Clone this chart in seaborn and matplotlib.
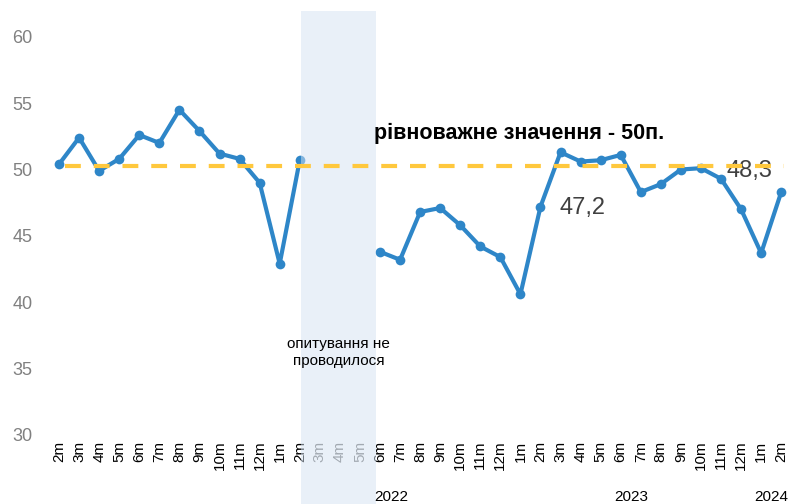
import numpy as np
import pandas as pd
import seaborn as sns
import matplotlib.pyplot as plt

months = ["2m", "3m", "4m", "5m", "6m", "7m", "8m", "9m", "10m", "11m", "12m",
          "1m", "2m", "3m", "4m", "5m", "6m", "7m", "8m", "9m", "10m", "11m", "12m",
          "1m", "2m", "3m", "4m", "5m", "6m", "7m", "8m", "9m", "10m", "11m", "12m",
          "1m", "2m"]
index_values = [50.4, 52.4, 49.9, 50.8, 52.6, 52.0, 54.5, 52.9, 51.2, 50.8, 49.0,
                42.9, 50.7, np.nan, np.nan, np.nan, 43.8, 43.2, 46.8, 47.1, 45.8, 44.2, 43.4,
                40.6, 47.2, 51.3, 50.6, 50.7, 51.1, 48.3, 48.9, 50.0, 50.1, 49.3, 47.0,
                43.7, 48.3]
segment = [0] * 13 + [1] * 24
no_survey = [13, 14, 15]
years = ["2022", "2023", "2024"]
year_pos = [16.55, 28.5, 35.5]
balance = 50.3

df = pd.DataFrame({"x": range(len(months)), "value": index_values, "seg": segment})
df = df.dropna()

sns.set_style("white")
plt.rcParams["font.family"] = ["Liberation Sans", "DejaVu Sans"]
plt.rcParams["text.color"] = "black"

fig = plt.figure(figsize=(7.93, 5.04), dpi=100)
ax = fig.add_axes([0.0618, 0.137, 0.936, 0.79])

blue = "#2E86C8"
sns.lineplot(data=df, x="x", y="value", units="seg", estimator=None, color=blue,
             lw=3, marker="o", markersize=7, markeredgewidth=0, ax=ax, zorder=3)

# semi-transparent band over the months without survey
ax.axvspan(12.05, 15.8, ymin=-0.175, ymax=1.065, color="#D5E3F3", alpha=0.5,
           lw=0, clip_on=False, zorder=4)
ax.axhline(balance, xmin=0.022, xmax=0.99, color="#FFC83D", lw=3, ls=(0, (3.8, 3.1)), zorder=6)

ax.set_xlim(-0.5, 36.5)
ax.set_ylim(30, 60)
ax.set_yticks(range(30, 61, 5))
ax.set_xticks(range(len(months)))
ax.set_xticklabels(months, rotation=90, fontsize=11, color="black")
for i, lab in enumerate(ax.get_xticklabels()):
    if i in no_survey:
        lab.set_color("#707070")
ax.tick_params(axis="y", labelsize=13, labelcolor="#808080", length=0, pad=12)
ax.tick_params(axis="x", length=0, pad=4)
ax.set_xlabel("")
ax.set_ylabel("")
sns.despine(ax=ax, left=True, bottom=True)

for y_lab, xp in zip(years, year_pos):
    ax.text(xp, -0.155, y_lab, transform=ax.get_xaxis_transform(), ha="center",
            va="center", fontsize=11, zorder=7)

ax.text(15.7, 52.7, "рівноважне значення - 50п.", fontsize=15.5, fontweight="bold",
        ha="left", va="center", zorder=7)
ax.text(24.95, 47.1, "47,2", fontsize=17, color="#404040", ha="left", va="center", zorder=5)
ax.text(33.25, 49.9, "48,3", fontsize=17, color="#404040", ha="left", va="center", zorder=5)
ax.text(13.95, 36.2, "опитування не\nпроводилося", fontsize=11, ha="center",
        va="center", linespacing=1.3, zorder=7)

fig.savefig("out.png", dpi=100)
